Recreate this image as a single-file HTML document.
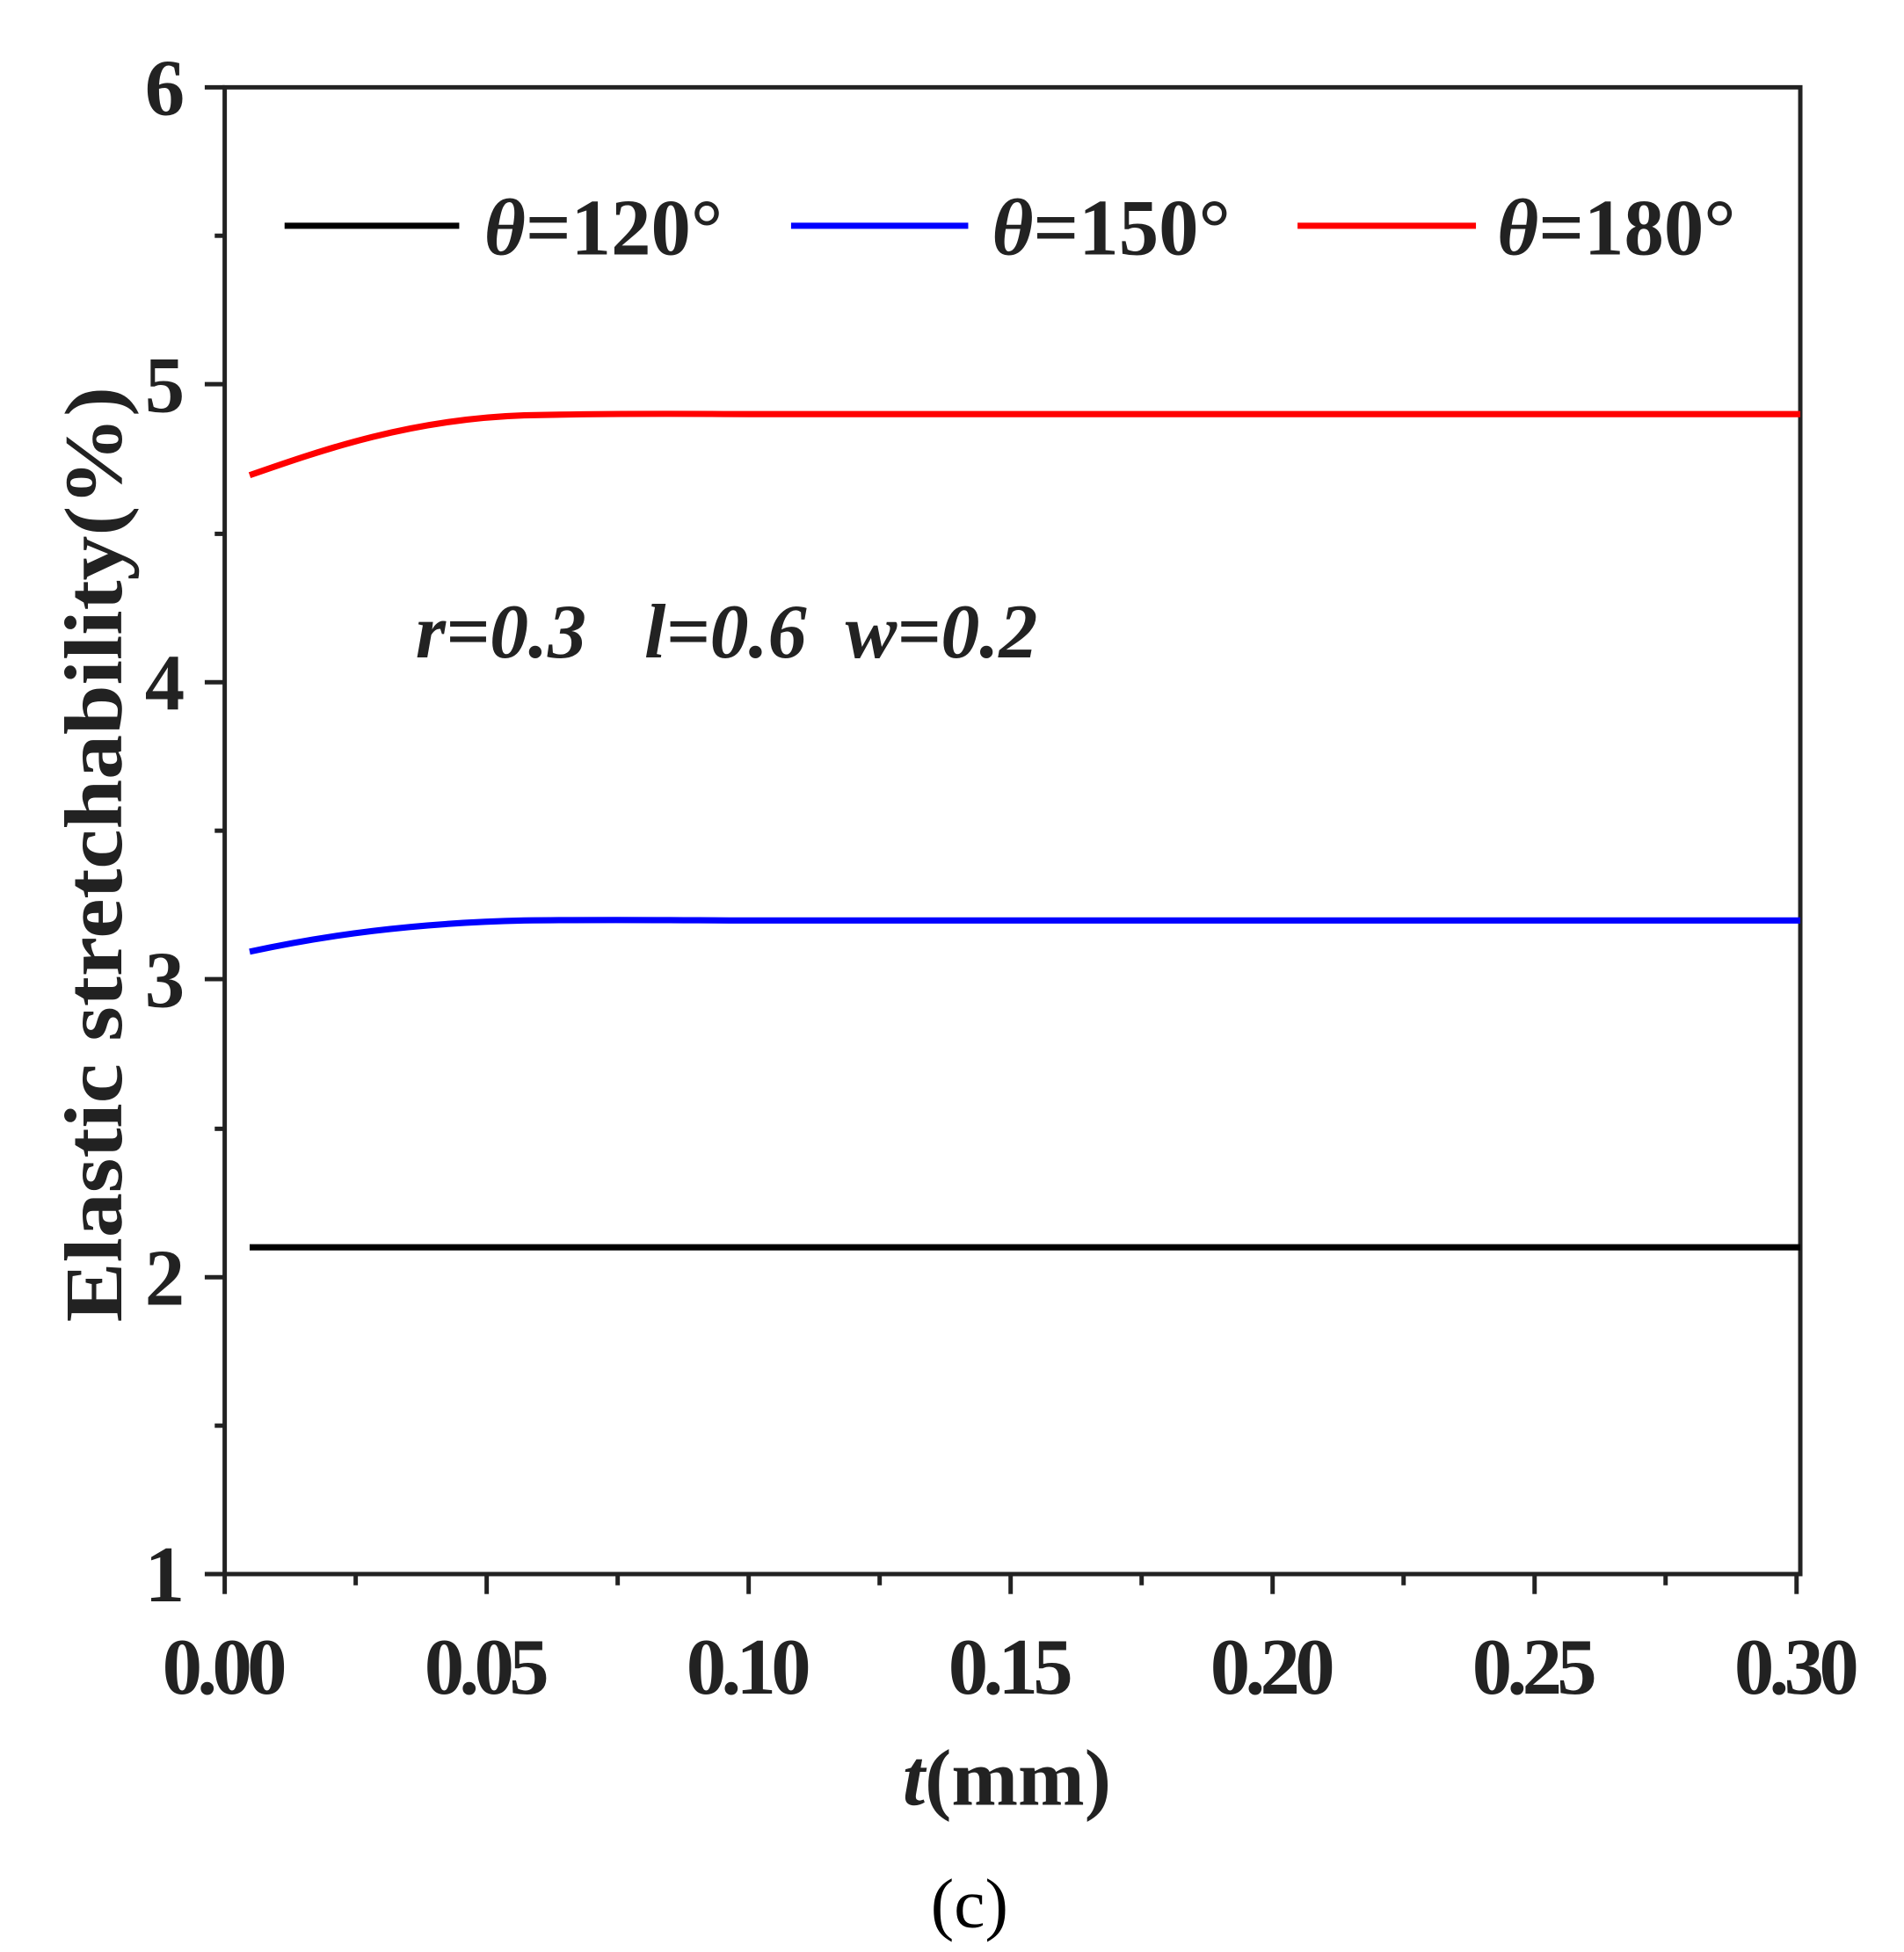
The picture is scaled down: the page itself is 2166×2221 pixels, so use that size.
<!DOCTYPE html>
<html><head><meta charset="utf-8"><style>
html,body{margin:0;padding:0;background:#fff;}
svg{display:block;}
text{font-family:"Liberation Serif",serif;}
</style></head><body>
<svg width="2166" height="2221" viewBox="0 0 1526 1565" xmlns="http://www.w3.org/2000/svg">
<rect width="1526" height="1565" fill="#fff"/>
<rect x="180" y="70" width="1263" height="1192" fill="none" stroke="#222" stroke-width="3.5"/>
<g stroke="#222" stroke-width="3.5">
<line x1="164" y1="70" x2="180" y2="70"/><line x1="164" y1="308" x2="180" y2="308"/>
<line x1="164" y1="547" x2="180" y2="547"/><line x1="164" y1="785" x2="180" y2="785"/>
<line x1="164" y1="1024" x2="180" y2="1024"/><line x1="164" y1="1262" x2="180" y2="1262"/>
<line x1="172" y1="189" x2="180" y2="189"/><line x1="172" y1="428" x2="180" y2="428"/>
<line x1="172" y1="666" x2="180" y2="666"/><line x1="172" y1="905" x2="180" y2="905"/>
<line x1="172" y1="1143" x2="180" y2="1143"/>
<line x1="180" y1="1262" x2="180" y2="1278"/><line x1="390" y1="1262" x2="390" y2="1278"/>
<line x1="600" y1="1262" x2="600" y2="1278"/><line x1="810" y1="1262" x2="810" y2="1278"/>
<line x1="1020" y1="1262" x2="1020" y2="1278"/><line x1="1230" y1="1262" x2="1230" y2="1278"/>
<line x1="1440" y1="1262" x2="1440" y2="1278"/>
<line x1="285" y1="1262" x2="285" y2="1271"/><line x1="495" y1="1262" x2="495" y2="1271"/>
<line x1="705" y1="1262" x2="705" y2="1271"/><line x1="915" y1="1262" x2="915" y2="1271"/>
<line x1="1125" y1="1262" x2="1125" y2="1271"/><line x1="1335" y1="1262" x2="1335" y2="1271"/>
</g>
<g font-size="64" font-weight="bold" fill="#222" text-anchor="end">
<text x="148" y="92">6</text><text x="148" y="330">5</text><text x="148" y="569">4</text>
<text x="148" y="807">3</text><text x="148" y="1046">2</text><text x="148" y="1284">1</text>
</g>
<g font-size="64" font-weight="bold" fill="#222" text-anchor="middle">
<text x="180" y="1358" textLength="100">0.00</text><text x="390" y="1358" textLength="100">0.05</text><text x="600" y="1358" textLength="100">0.10</text>
<text x="810" y="1358" textLength="100">0.15</text><text x="1020" y="1358" textLength="100">0.20</text><text x="1230" y="1358" textLength="100">0.25</text>
<text x="1440" y="1358" textLength="100">0.30</text>
</g>
<path d="M200,381 C260,360 330,336 420,333 C500,331 560,332 600,332 L1443,332" fill="none" stroke="#f00" stroke-width="5"/>
<path d="M200,763 C260,750 330,740 420,738 C500,737 560,738 600,738 L1443,738" fill="none" stroke="#00f" stroke-width="5"/>
<line x1="200" y1="1000" x2="1443" y2="1000" stroke="#000" stroke-width="5"/>
<line x1="228" y1="181" x2="368" y2="181" stroke="#000" stroke-width="5"/>
<line x1="634" y1="181" x2="776" y2="181" stroke="#00f" stroke-width="5"/>
<line x1="1040" y1="181" x2="1183" y2="181" stroke="#f00" stroke-width="5"/>
<g font-size="64" font-weight="bold" fill="#222">
<text x="388" y="204"><tspan font-style="italic">θ</tspan>=120°</text>
<text x="795" y="204"><tspan font-style="italic">θ</tspan>=150°</text>
<text x="1200" y="204"><tspan font-style="italic">θ</tspan>=180°</text>
</g>
<text x="333" y="527" font-size="62" font-weight="bold" font-style="italic" fill="#222" xml:space="preserve">r=0.3   l=0.6  w=0.2</text>
<text transform="translate(97,685) rotate(-90)" text-anchor="middle" font-size="66" font-weight="bold" fill="#222" textLength="750" lengthAdjust="spacingAndGlyphs">Elastic stretchability(%)</text>
<text x="807" y="1447" text-anchor="middle" font-size="64" font-weight="bold" fill="#222"><tspan font-style="italic">t</tspan>(mm)</text>
<text x="777" y="1545" text-anchor="middle" font-size="56" fill="#000">(c)</text>
</svg>
</body></html>
